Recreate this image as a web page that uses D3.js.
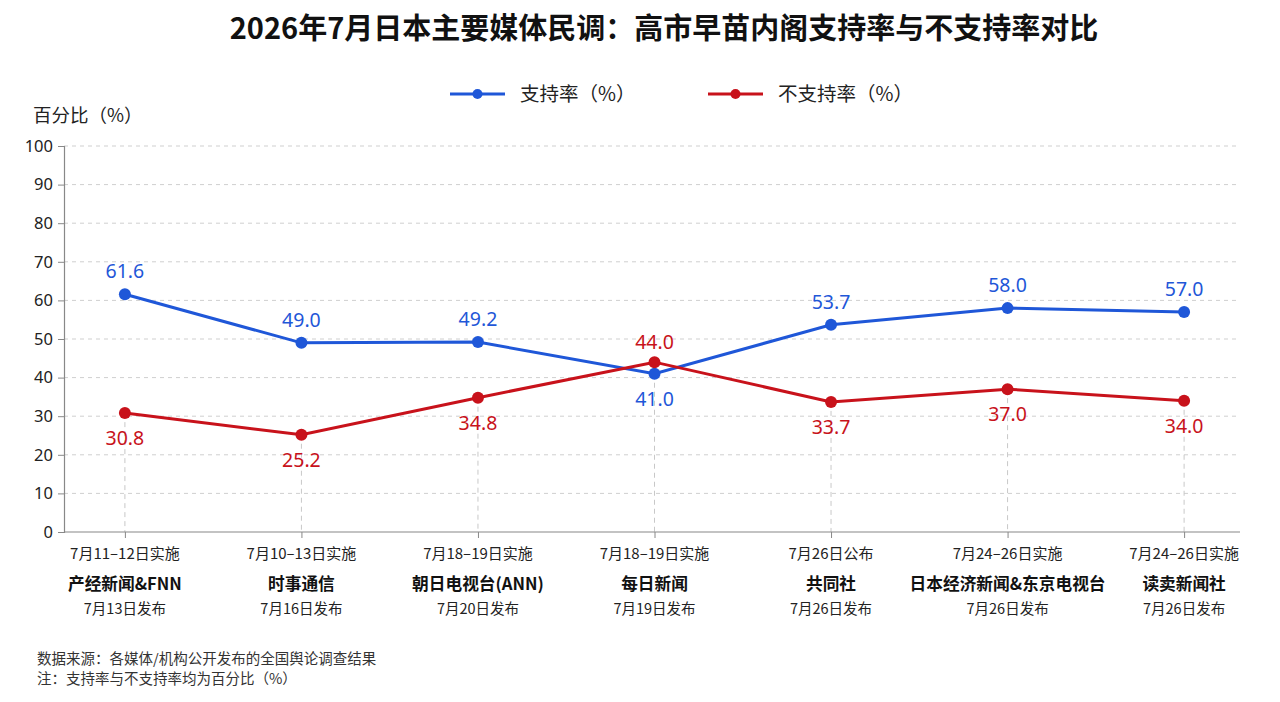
<!DOCTYPE html>
<html><head><meta charset="utf-8">
<script src="https://cdn.jsdelivr.net/npm/d3@7"></script>
<style>
html,body{margin:0;padding:0;background:#fff;}
svg{display:block;font-family:"Noto Sans CJK SC","Noto Sans",sans-serif;}
</style></head>
<body><svg id="c" width="1280" height="702"></svg>
<script>
const pollsters = ["产经新闻&FNN","时事通信","朝日电视台(ANN)","每日新闻","共同社","日本经济新闻&东京电视台","读卖新闻社"];
const surveyDates = ["7月11–12日实施","7月10–13日实施","7月18–19日实施","7月18–19日实施","7月26日公布","7月24–26日实施","7月24–26日实施"];
const releaseDates = ["7月13日发布","7月16日发布","7月20日发布","7月19日发布","7月26日发布","7月26日发布","7月26日发布"];
const support = [61.6, 49.0, 49.2, 41.0, 53.7, 58.0, 57.0];
const oppose = [30.8, 25.2, 34.8, 44.0, 33.7, 37.0, 34.0];
const yTicks = [0,10,20,30,40,50,60,70,80,90,100];
const seriesNames = ["支持率（%）","不支持率（%）"];

const blue = "#1f57d8", red = "#c8121b";
const svg = d3.select("#c");
const L = 64, R = 1240, T = 146, B = 532;
const x = d3.scalePoint().domain(pollsters).range([L, 1245]).padding(0.345);
const y = d3.scaleLinear().domain([0,100]).range([B, T]);

// title
svg.append("text").attr("x", 664).attr("y", 39).attr("text-anchor","middle")
  .attr("font-size", 29).attr("font-weight", 700).attr("fill","#111")
  .text("2026年7月日本主要媒体民调：高市早苗内阁支持率与不支持率对比");

// legend
const legend = [{name:seriesNames[0], c:blue, x:450},{name:seriesNames[1], c:red, x:708}];
legend.forEach(l=>{
  const g = svg.append("g");
  g.append("line").attr("x1", l.x).attr("x2", l.x+55).attr("y1",94).attr("y2",94).attr("stroke",l.c).attr("stroke-width",3);
  g.append("circle").attr("cx", l.x+27.5).attr("cy",94).attr("r",5).attr("fill",l.c);
  g.append("text").attr("x", l.x+70).attr("y",101).attr("font-size",19.5).attr("fill","#222").text(l.name);
});

// y title
svg.append("text").attr("x",33).attr("y",122).attr("font-size",18.5).attr("fill","#222").text("百分比（%）");

// gridlines
svg.append("g").selectAll("line").data(yTicks.filter(d=>d>0)).join("line")
  .attr("x1", L).attr("x2", R).attr("y1", d=>y(d)).attr("y2", d=>y(d))
  .attr("stroke","#cfcfcf").attr("stroke-dasharray","4,4").attr("stroke-width",1);

// y axis
const ya = svg.append("g").attr("transform",`translate(${L},0)`)
  .call(d3.axisLeft(y).tickValues(yTicks).tickSize(6).tickPadding(5));
ya.select(".domain").attr("stroke","#888").attr("stroke-width",1.2);
ya.selectAll(".tick line").attr("stroke","#888");
ya.selectAll(".tick text").attr("font-size",16.5).attr("fill","#222").attr("font-family","'Noto Sans',sans-serif");

// vertical dashed lines from lower point to axis
svg.append("g").selectAll("line").data(pollsters).join("line")
  .attr("x1", d=>x(d)).attr("x2", d=>x(d))
  .attr("y1", (d,i)=>y(Math.min(support[i], oppose[i]))).attr("y2", B)
  .attr("stroke","#c8c8c8").attr("stroke-dasharray","5,4").attr("stroke-width",1);

// x axis
const xa = svg.append("g").attr("transform",`translate(0,${B})`)
  .call(d3.axisBottom(x).tickSize(6).tickFormat(""));
xa.select(".domain").attr("stroke","#888").attr("stroke-width",1.2).attr("d",`M${L},0H${R}`);
xa.selectAll(".tick line").attr("stroke","#888");

// x labels
const xl = svg.append("g");
pollsters.forEach((p,i)=>{
  xl.append("text").attr("x", x(p)).attr("y", 559).attr("text-anchor","middle").attr("font-size",15).attr("fill","#222").text(surveyDates[i]);
  xl.append("text").attr("x", x(p)).attr("y", 590).attr("text-anchor","middle").attr("font-size",16.7).attr("font-weight",700).attr("fill","#111").text(p);
  xl.append("text").attr("x", x(p)).attr("y", 614).attr("text-anchor","middle").attr("font-size",14.5).attr("fill","#222").text(releaseDates[i]);
});

// lines
const line = d3.line().x((d,i)=>x(pollsters[i])).y(d=>y(d));
[[support,blue],[oppose,red]].forEach(([vals,c])=>{
  svg.append("path").datum(vals).attr("d", line).attr("fill","none").attr("stroke",c).attr("stroke-width",3);
  svg.append("g").selectAll("circle").data(vals).join("circle")
    .attr("cx",(d,i)=>x(pollsters[i])).attr("cy",d=>y(d)).attr("r",6).attr("fill",c);
});

// value labels
const lab = svg.append("g").attr("font-size",19.5).attr("text-anchor","middle").attr("font-family","'Noto Sans',sans-serif");
pollsters.forEach((p,i)=>{
  const sAbove = support[i] >= oppose[i];
  lab.append("text").attr("x", x(p)).attr("y", sAbove ? y(support[i]) - 16 : y(support[i]) + 32)
    .attr("fill", blue).text(support[i].toFixed(1));
  lab.append("text").attr("x", x(p)).attr("y", sAbove ? y(oppose[i]) + 32 : y(oppose[i]) - 13)
    .attr("fill", red).text(oppose[i].toFixed(1));
});

// footer
svg.append("text").attr("x",37).attr("y",664).attr("font-size",14.5).attr("fill","#333").text("数据来源：各媒体/机构公开发布的全国舆论调查结果");
svg.append("text").attr("x",37).attr("y",684).attr("font-size",14.5).attr("fill","#333").text("注：支持率与不支持率均为百分比（%）");
</script></body></html>
